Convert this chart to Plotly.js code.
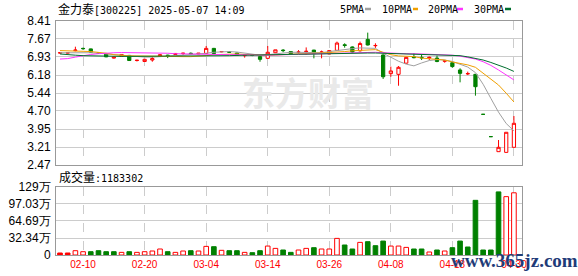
<!DOCTYPE html>
<html><head><meta charset="utf-8">
<script src="https://cdn.plot.ly/plotly-3.0.1.min.js"></script>
<style>html,body{margin:0;padding:0;background:#fff;}#chart{width:578px;height:276px;}</style>
</head><body><div id="chart"></div>
<script>
const dates = ['02-05','02-06','02-07','02-10','02-11','02-12','02-13','02-14','02-17','02-18','02-19','02-20','02-21','02-24','02-25','02-26','02-27','02-28',
'03-03','03-04','03-05','03-06','03-07','03-10','03-11','03-12','03-13','03-14','03-17','03-18','03-19','03-20','03-21','03-24','03-25','03-26','03-27','03-28','03-31',
'04-01','04-02','04-03','04-07','04-08','04-09','04-10','04-11','04-14','04-15','04-16','04-17','04-18','04-21','04-22','04-23','04-24','04-25','04-28','04-29','04-30'];
const openP  = [7.09,7.09,7.19,7.28,7.26,7.09,7.07,6.88,6.95,6.99,6.78,6.74,6.80,6.95,7.00,7.03,7.07,7.08,7.05,7.07,7.28,7.14,7.14,7.09,6.98,7.00,6.94,6.87,7.10,7.21,7.15,7.12,7.15,7.21,7.12,7.05,7.20,7.43,7.34,7.18,7.65,7.39,7.01,6.24,6.21,6.67,6.93,6.91,6.88,6.88,6.75,6.69,6.39,6.23,6.21,4.56,3.64,3.02,2.99,3.20];
const highP  = [7.12,7.12,7.35,7.31,7.27,7.10,7.08,6.93,7.04,7.01,6.81,6.84,6.94,7.04,7.02,7.09,7.10,7.11,7.09,7.38,7.30,7.17,7.15,7.10,7.02,7.02,6.95,7.38,7.22,7.25,7.16,7.21,7.32,7.22,7.19,7.20,7.56,7.49,7.36,7.56,7.93,7.49,7.03,6.53,6.55,6.93,7.08,7.01,6.94,6.98,6.80,6.73,6.46,6.32,6.22,4.56,3.64,3.50,3.82,4.49];
const lowP   = [7.07,7.07,7.16,7.22,7.11,7.06,6.92,6.86,6.94,6.77,6.74,6.73,6.73,6.93,6.88,7.02,7.01,7.02,7.04,7.06,7.05,7.12,7.10,6.99,6.90,6.96,6.73,6.85,7.09,7.12,7.05,7.07,7.01,6.87,6.87,7.04,7.18,7.31,7.10,7.15,7.40,7.30,6.02,6.11,5.74,6.65,6.87,6.80,6.80,6.71,6.69,6.48,5.88,6.18,5.33,4.56,3.64,3.02,2.99,3.20];
const closeP = [7.10,7.10,7.21,7.27,7.12,7.08,6.93,6.92,7.03,6.78,6.79,6.83,6.86,7.02,6.98,7.07,7.08,7.06,7.08,7.28,7.07,7.15,7.12,7.00,7.01,6.99,6.83,7.12,7.22,7.19,7.06,7.13,7.16,7.07,7.13,7.19,7.50,7.40,7.13,7.48,7.42,7.40,6.11,6.35,6.50,6.91,6.90,6.89,6.91,6.74,6.77,6.53,6.25,6.24,5.70,4.56,3.64,3.20,3.82,4.19];
const volumeWan = [3.8,3.8,8.2,6.3,6.3,8.2,6.3,6.3,5.0,6.3,5.0,6.3,7.6,11.4,6.3,5.0,7.6,8.2,7.6,16.4,15.8,8.9,8.2,8.2,5.0,4.4,8.2,17.0,12.6,9.5,5.0,9.5,12.6,13.9,11.4,11.4,31.6,19.0,11.4,24.0,25.3,17.7,26.5,17.0,17.0,14.5,11.4,11.4,5.7,9.5,7.6,13.9,26.5,15.2,104,9.5,9.5,120,111,118.33];
const ma5  = [7.10,7.10,7.12,7.13,7.10,7.08,7.05,7.02,7.00,6.97,6.94,6.92,6.92,6.93,6.95,6.98,7.00,7.02,7.04,7.08,7.12,7.15,7.15,7.13,7.08,7.03,7.00,7.02,7.06,7.10,7.12,7.12,7.12,7.11,7.10,7.15,7.20,7.24,7.27,7.30,7.30,7.28,7.08,6.92,6.75,6.63,6.56,6.68,6.78,6.82,6.80,6.74,6.63,6.51,6.28,5.80,5.22,4.65,4.18,3.88];
const ma10 = [7.19,7.19,7.18,7.16,7.15,7.13,7.08,7.02,6.99,6.97,6.97,6.96,6.95,6.94,6.94,6.94,6.94,6.94,6.95,6.98,7.02,7.04,7.05,7.05,7.03,7.01,7.00,7.00,7.01,7.03,7.05,7.06,7.07,7.08,7.09,7.10,7.12,7.15,7.18,7.20,7.22,7.23,7.12,7.02,6.97,6.95,6.94,6.88,6.85,6.83,6.80,6.72,6.67,6.60,6.50,6.25,6.00,5.77,5.43,5.07];
const ma20 = [6.84,6.86,6.92,6.99,7.03,7.06,7.09,7.10,7.11,7.11,7.11,7.11,7.10,7.09,7.08,7.06,7.05,7.04,7.04,7.04,7.03,7.03,7.02,7.02,7.01,7.01,7.00,7.00,7.01,7.02,7.03,7.04,7.05,7.06,7.07,7.07,7.08,7.09,7.10,7.11,7.12,7.12,7.10,7.08,7.07,7.06,7.06,7.05,7.04,7.03,7.02,7.00,6.96,6.90,6.84,6.73,6.58,6.39,6.19,5.98];
const ma30 = [7.05,7.01,7.00,6.98,6.97,6.95,6.95,6.95,6.95,6.95,6.95,6.95,6.95,6.95,6.95,6.95,6.95,6.95,6.95,6.96,6.96,6.97,6.98,6.99,7.00,7.00,7.01,7.02,7.03,7.04,7.04,7.04,7.04,7.05,7.05,7.06,7.07,7.08,7.09,7.09,7.09,7.09,7.08,7.08,7.08,7.07,7.06,7.05,7.04,7.03,7.02,7.01,6.98,6.93,6.87,6.80,6.70,6.60,6.47,6.33];
const priceTicks = [8.41,7.67,6.93,6.18,5.44,4.70,3.95,3.21,2.47];
const volTicks = [0,32.34,64.69,97.03,129.36];
const volTickText = ['0','32.34万','64.69万','97.03万','129万'];
const dateTicks = ['02-10','02-20','03-04','03-14','03-26','04-08','04-18','04-30'];
const stockName = '金力泰';
const stockCode = '[300225]';
const stamp = '2025-05-07 14:09';
const lastVolume = 1183302;
const maNames = ['5PMA','10PMA','20PMA','30PMA'];

const RED = '#ff0000', GREEN = '#008000';
const maColors = ['#a0a0a0','#f0a000','#ff33ff','#006e2e'];
const W = 578, H = 276;
const px = x => x / W, py = y => 1 - y / H;

const volFill = closeP.map((c,i) => (i === 0 || c === closeP[i-1]) ? RED : (c > closeP[i-1] ? '#ffffff' : GREEN));
const volLine = closeP.map((c,i) => (i === 0 || c >= closeP[i-1]) ? RED : GREEN);

const traces = [
  {type:'candlestick', x:dates, open:openP, high:highP, low:lowP, close:closeP, xaxis:'x', yaxis:'y',
   increasing:{line:{color:RED,width:1}, fillcolor:'#ffffff'},
   decreasing:{line:{color:GREEN,width:1}, fillcolor:GREEN},
   whiskerwidth:0, hoverinfo:'skip', showlegend:false},
];
[ma5, ma10, ma20, ma30].forEach((m,k) => traces.push({
  type:'scatter', mode:'lines', x:dates, y:m, xaxis:'x', yaxis:'y',
  line:{color:maColors[k], width:1}, hoverinfo:'skip', showlegend:false}));
traces.push({type:'bar', x:dates, y:volumeWan, xaxis:'x2', yaxis:'y2', width:0.6,
  marker:{color:volFill, line:{color:volLine, width:1}}, hoverinfo:'skip', showlegend:false});

const gridC = '#cccccc', frameC = '#999999';
const xCommon = {domain:[px(56), px(522)], type:'category', range:[-0.52, 60.05], tickvals:dateTicks,
  showgrid:true, gridcolor:gridC, griddash:'dash', gridwidth:1, showline:true, mirror:true, linecolor:frameC,
  linewidth:1, ticks:'', zeroline:false, fixedrange:true, automargin:false};
const yFont = {family:'Liberation Sans, Arial, sans-serif', size:12, color:'#000'};

const annotations = [
  {text:'<span style="font-size:12px">'+stockName+'</span>'+stockCode+' '+stamp, x:px(56), y:py(9), xref:'paper', yref:'paper',
   xanchor:'left', yanchor:'middle', showarrow:false, font:{family:'DejaVu Sans Mono, Noto Sans CJK SC', size:10, color:'#000'}},
  {text:'<span style="font-size:12px">成交量</span>:'+lastVolume, x:px(57), y:py(177), xref:'paper', yref:'paper',
   xanchor:'left', yanchor:'middle', showarrow:false, font:{family:'DejaVu Sans Mono, Noto Sans CJK SC', size:10, color:'#000'}},
  {text:'东方财富', x:px(308), y:py(92), xref:'paper', yref:'paper', xanchor:'center', yanchor:'middle', showarrow:false,
   font:{family:'Noto Sans CJK SC', size:33, color:'#e9e9e9', weight:'bold'}},
  {text:'www.365jz.com', x:px(514), y:py(260), xref:'paper', yref:'paper', xanchor:'center', yanchor:'middle', showarrow:false,
   font:{family:'Liberation Serif, serif', size:19, color:'#1f3b78', weight:'bold'}},
];
const legendX = [338, 380, 426, 472];
const dashX = [[365,371],[413,418],[457,463],[505,511]];
const shapes = [];
maNames.forEach((n,k) => {
  annotations.push({text:n, x:px(legendX[k]), y:py(9), xref:'paper', yref:'paper', xanchor:'left', yanchor:'middle',
    showarrow:false, font:{family:'DejaVu Sans Mono, monospace', size:10, color:'#000'}});
  shapes.push({type:'line', xref:'paper', yref:'paper', x0:px(dashX[k][0]), x1:px(dashX[k][1]), y0:py(9), y1:py(9),
    line:{color:maColors[k], width:2.5}});
});

const layout = {
  width:W, height:H, margin:{l:0,r:0,t:0,b:0}, paper_bgcolor:'#fff', plot_bgcolor:'#fff', showlegend:false,
  boxgap:0.4,
  xaxis:Object.assign({}, xCommon, {anchor:'y', showticklabels:false, rangeslider:{visible:false}}),
  yaxis:{domain:[py(165), py(21)], range:[2.47, 8.41], tickvals:priceTicks, ticktext:priceTicks.map(v=>v.toFixed(2)),
    showgrid:true, gridcolor:gridC, showline:true, mirror:true, linecolor:frameC, ticks:'', zeroline:false,
    tickfont:yFont, fixedrange:true, automargin:false, ticklabelstandoff:2},
  xaxis2:Object.assign({}, xCommon, {anchor:'y2', showticklabels:true, ticktext:dateTicks,
    tickfont:{family:'Liberation Sans, Arial, sans-serif', size:10, color:RED}}),
  yaxis2:{domain:[py(255), py(187)], range:[0, 129.36], tickvals:volTicks, ticktext:volTickText,
    showgrid:true, gridcolor:gridC, showline:true, mirror:true, linecolor:frameC, ticks:'', zeroline:false,
    tickfont:yFont, fixedrange:true, automargin:false, ticklabelstandoff:2},
  annotations:annotations, shapes:shapes
};
Plotly.newPlot('chart', traces, layout, {staticPlot:true, displayModeBar:false});
</script></body></html>
